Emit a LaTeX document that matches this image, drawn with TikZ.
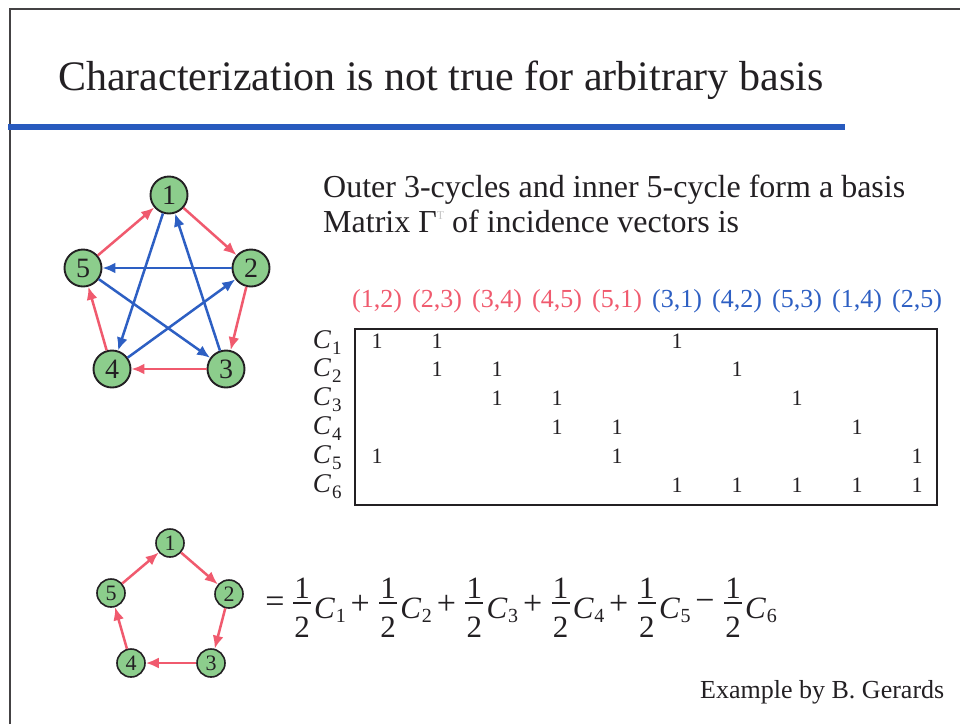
\documentclass[tikz,border=0pt]{standalone}
\usepackage{fontspec}
\setmainfont{Liberation Serif}
\usetikzlibrary{arrows.meta}
\definecolor{ink}{RGB}{35,32,35}
\definecolor{nodegreen}{RGB}{140,205,140}
\definecolor{edgered}{RGB}{240,90,110}
\definecolor{edgeblue}{RGB}{45,95,195}
\definecolor{barblue}{RGB}{40,90,190}
\newcommand\fs[1]{\fontsize{#1}{#1}\selectfont}
\begin{document}
\begin{tikzpicture}[x=1pt,y=-1pt,
  vbig/.style={circle,draw=ink,line width=1.9pt,fill=nodegreen,minimum size=37pt,inner sep=0pt,font=\fs{28},text=ink},
  vsmall/.style={circle,draw=ink,line width=1.6pt,fill=nodegreen,minimum size=28pt,inner sep=0pt,font=\fs{22},text=ink},
  redarc/.style={draw=edgered,line width=2.5pt,-{Latex[length=13pt,width=11pt]}},
  bluearc/.style={draw=edgeblue,line width=2.5pt,-{Latex[length=13pt,width=11pt]}},
  txt/.style={inner sep=0pt,anchor=base west,text=ink},
  hdr/.style={inner sep=0pt,anchor=base,font=\fs{26}},
  entry/.style={inner sep=0pt,anchor=base,font=\fs{22},text=ink},
  rowC/.style={inner sep=0pt,anchor=base east,font=\fs{27}\itshape,text=ink},
  rowsub/.style={inner sep=0pt,anchor=base west,font=\fs{19},text=ink},
  eqsign/.style={inner sep=0pt,anchor=center,font=\fs{34},text=ink},
  eqnum/.style={inner sep=0pt,anchor=base,font=\fs{31},text=ink},
  eqC/.style={inner sep=0pt,anchor=base west,font=\fs{31}\itshape,text=ink},
  eqsub/.style={inner sep=0pt,anchor=base west,font=\fs{20},text=ink},
  fracbar/.style={draw=ink,line width=1.6pt}
]
\useasboundingbox (0,0) rectangle (960,724);
\fill[white] (0,0) rectangle (960,724);
% frame and title
\draw[ink!85,line width=1.3pt] (10,724) -- (10,9) -- (960,9);
\fill[barblue] (8,124) rectangle (845,130);
\node[txt,font=\fs{42}] (title) at (58,90) {Characterization is not true for arbitrary basis};
% intro text
\node[txt,font=\fs{32}] (line1) at (323,197) {Outer 3-cycles and inner 5-cycle form a basis};
\node[txt,font=\fs{32}] (line2) at (323,232) {Matrix Γ\raisebox{13pt}{\fs{12}\textcolor{gray!45}{T}} of incidence vectors is};
% big graph
\node[vbig] (a1) at (169,195) {1};
\node[vbig] (a2) at (251,268) {2};
\node[vbig] (a3) at (226,369) {3};
\node[vbig] (a4) at (112,369) {4};
\node[vbig] (a5) at (83,268) {5};
\draw[redarc] (a1) -- (a2);
\draw[redarc] (a2) -- (a3);
\draw[redarc] (a3) -- (a4);
\draw[redarc] (a4) -- (a5);
\draw[redarc] (a5) -- (a1);
\draw[bluearc] (a3) -- (a1);
\draw[bluearc] (a4) -- (a2);
\draw[bluearc] (a5) -- (a3);
\draw[bluearc] (a1) -- (a4);
\draw[bluearc] (a2) -- (a5);
% headers
\foreach \lab [count=\i] in {{(1,2)},{(2,3)},{(3,4)},{(4,5)},{(5,1)}}
  \node[hdr,text=edgered] (hr\i) at ({377+60*(\i-1)},307) {\lab};
\foreach \lab [count=\i] in {{(3,1)},{(4,2)},{(5,3)},{(1,4)},{(2,5)}}
  \node[hdr,text=edgeblue] (hb\i) at ({677+60*(\i-1)},307) {\lab};
% matrix box
\node[draw=ink,line width=1.8pt,minimum width=582pt,minimum height=176pt,inner sep=0pt] (box) at (646,417) {};
\foreach \r in {1,...,6} {
  \node[rowC] (c\r) at (331,{348+28.8*(\r-1)}) {C};
  \node[rowsub] (s\r) at (332,{354+28.8*(\r-1)}) {\r};
}
\foreach \r/\c in {1/1,1/2,1/6,2/2,2/3,2/7,3/3,3/4,3/8,4/4,4/5,4/9,5/1,5/5,5/10,6/6,6/7,6/8,6/9,6/10}
  \node[entry] (m\r-\c) at ({377+60*(\c-1)},{348+28.8*(\r-1)}) {1};
% small graph
\node[vsmall] (b1) at (170,543) {1};
\node[vsmall] (b2) at (229,594) {2};
\node[vsmall] (b3) at (211,663) {3};
\node[vsmall] (b4) at (131,663) {4};
\node[vsmall] (b5) at (111,593) {5};
\draw[redarc] (b1) -- (b2);
\draw[redarc] (b2) -- (b3);
\draw[redarc] (b3) -- (b4);
\draw[redarc] (b4) -- (b5);
\draw[redarc] (b5) -- (b1);
% equation
\node[eqsign] (sg1) at (275,605) {=};
\foreach \k/\sg in {2/+,3/+,4/+,5/+,6/−}
  \node[eqsign] (sg\k) at ({302+86.2*(\k-1)-28},605) {\sg};
\foreach \k in {1,...,6} {
  \node[eqnum] (n\k) at ({302+86.2*(\k-1)},598) {1};
  \node[eqnum] (d\k) at ({302+86.2*(\k-1)},637) {2};
  \draw[fracbar] ({302+86.2*(\k-1)-9},603) -- ({302+86.2*(\k-1)+9},603);
  \node[eqC] (C\k) at ({302+86.2*(\k-1)+12},618) {C};
  \node[eqsub] (e\k) at ([xshift=0.5pt,yshift=-4pt]C\k.base east) {\k};
}
\node[txt,font=\fs{26}] (credit) at (700,698) {Example by B. Gerards};
\end{tikzpicture}
\end{document}
